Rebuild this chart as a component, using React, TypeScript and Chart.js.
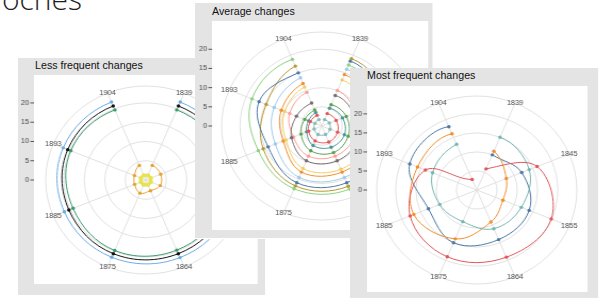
import React, { useEffect, useRef } from "react";
import { Chart, RadarController, RadialLinearScale, PointElement, LineElement } from "chart.js";

// Radar controller whose line is left open (a spiral path), as ggplot's coord_polar draws it.
// Curvature is computed as for a closed loop, but the closing segment is not drawn.
class SpiralController extends RadarController {
  static id = "spiral";
  static defaults = {
    datasetElementType: "line",
    dataElementType: "point",
    indexAxis: "r",
    showLine: true,
    elements: { line: { fill: false } },
  };
  update(mode: any) {
    super.update(mode);
    const line: any = (this as any)._cachedMeta.dataset;
    if (line) {
      line._loop = false;
      line._fullLoop = false;
      line._path = undefined;
      line._segments = undefined;
      line._pointsUpdated = false;
    }
  }
  draw() {
    const meta: any = (this as any)._cachedMeta;
    const line = meta.dataset;
    if (line) {
      line._fullLoop = true;
      line._pointsUpdated = false;
      line.updateControlPoints(this.chart.chartArea, "r");
      line._fullLoop = false;
      line._loop = false;
      line._segments = undefined;
      line._path = undefined;
    }
    super.draw();
  }
}
Chart.register(SpiralController, RadialLinearScale, PointElement, LineElement);

// ---------- data ----------
const YEARS = ["1839", "1845", "1855", "1864", "1875", "1885", "1893", "1904"];
const R_TICKS = [0, 5, 10, 15, 20];

// Less frequent changes
const LESS_BLUE = [21.9, 21.8, 21.8, 21.8, 21.7, 21.5, 21.8, 21.9];
const LESS_BLACK = [20.8, 20.7, 20.7, 20.7, 20.7, 20.3, 20.6, 20.8];
const LESS_GREEN = [19.7, 19.7, 19.7, 19.7, 19.8, 19.2, 19.8, 19.7];
const LESS_ORANGE = [4.1, 3.9, 3.8, 3.0, 3.7, 2.95, 3.0, 4.1];
const LESS_YELLOW = [1.3, 1.3, 1.3, 1.3, 1.3, 1.3, 1.3, 1.3];

// Average changes
const AVG_LIGHTGREEN = [17.2, 17.5, 17.6, 17.8, 17.7, 16.8, 18.5, 18.8];
const AVG_GOLD = [19.0, 17.5, 17.0, 17.0, 16.9, 15.5, 14.7, 16.9];
const AVG_BLUE = [18.3, 16.5, 16.0, 16.0, 16.0, 14.2, 16.6, 15.0];
const AVG_LIGHTBLUE = [16.0, 14.8, 14.5, 14.5, 14.5, 12.3, 12.6, 13.6];
const AVG_ORANGE = [14.5, 13.2, 13.0, 13.0, 13.0, 10.2, 10.7, 12.0];
const AVG_YELLOW = [13.0, 12.0, 12.0, 12.2, 12.0, 9.5, 9.8, 11.0];
const AVG_PINK = [10.0, 9.0, 8.5, 8.5, 8.5, 7.5, 8.5, 9.5];
const AVG_GRAY = [8.6, 8.5, 9.5, 9.8, 9.8, 8.0, 6.7, 6.5];
const AVG_GREEN = [6.0, 6.5, 7.0, 7.5, 7.0, 5.5, 4.5, 4.5];
const AVG_TEAL = [5.0, 5.5, 6.0, 6.0, 5.5, 4.0, 3.5, 3.8];
const AVG_RED = [3.5, 3.8, 4.2, 4.5, 4.2, 3.5, 3.0, 3.0];
const AVG_LIGHTTEAL = [1.8, 2.0, 2.2, 2.4, 2.4, 2.0, 1.8, 1.8];

// Most frequent changes
const MOST_BLUE = [10.0, 12.0, 14.0, 14.1, 15.0, 12.9, 17.9, 18.0];
const MOST_ORANGE = [11.0, 7.9, 7.0, 9.1, 13.9, 16.8, 15.8, 16.0];
const MOST_TEAL = [15.0, 14.0, 11.9, 11.0, 9.0, 9.9, 11.8, 13.0];
const MOST_RED = [6.0, 16.1, 19.9, 19.1, 19.0, 17.8, 13.7, 3.0];

// ---------- styling ----------
const FONT = '"Liberation Sans", Arial, Helvetica, sans-serif';
const STRETCH = 1.065;
const GRAY = "#e4e4e4";
const GRID = "#dedede";

type S = { data: number[]; color: string; width?: number; radius?: number };
type Cfg = {
  title: string;
  left: number; top: number; w: number; h: number;
  white: [number, number, number, number];
  titleX: number; titleY: number;
  cx: number; cy: number; R: number; max: number;
  series: S[];
};

const PANELS: Cfg[] = [
  {
    title: "Less frequent changes",
    left: 18, top: 58, w: 232, h: 237,
    white: [15, 17, 210, 209],
    titleX: 16, titleY: 2.5,
    cx: 120, cy: 122, R: 94, max: 24.4,
    series: [
      { data: LESS_YELLOW, color: "#e6e34e", width: 2.5, radius: 2.2 },
      { data: LESS_ORANGE, color: "#e7a332" },
      { data: LESS_GREEN, color: "#3a9a6e" },
      { data: LESS_BLACK, color: "#111111" },
      { data: LESS_BLUE, color: "#6cace4" },
    ],
  },
  {
    title: "Average changes",
    left: 195, top: 3, w: 223, h: 235,
    white: [16, 18, 203, 209],
    titleX: 16, titleY: 4,
    cx: 119, cy: 123.5, R: 94, max: 24.5,
    series: [
      { data: AVG_LIGHTTEAL, color: "#86bcb6" },
      { data: AVG_RED, color: "#e15759" },
      { data: AVG_TEAL, color: "#499894" },
      { data: AVG_GREEN, color: "#59a14f" },
      { data: AVG_GRAY, color: "#79706e" },
      { data: AVG_PINK, color: "#ff9d9a" },
      { data: AVG_YELLOW, color: "#f1ce63" },
      { data: AVG_ORANGE, color: "#f28e2b" },
      { data: AVG_LIGHTBLUE, color: "#a0cbe8" },
      { data: AVG_BLUE, color: "#4e79a7" },
      { data: AVG_GOLD, color: "#b6992d" },
      { data: AVG_LIGHTGREEN, color: "#8cd17d" },
    ],
  },
  {
    title: "Most frequent changes",
    left: 350, top: 68, w: 233, h: 240,
    white: [16, 18, 207, 206],
    titleX: 16, titleY: 2.5,
    cx: 119.7, cy: 122, R: 94, max: 24.7,
    series: [
      { data: MOST_RED, color: "#e15759" },
      { data: MOST_TEAL, color: "#76b7b2" },
      { data: MOST_ORANGE, color: "#f28e2b" },
      { data: MOST_BLUE, color: "#4e79a7" },
    ],
  },
];

const polarDecor = {
  id: "polarDecor",
  afterDraw(chart: any, _args: any, opts: any) {
    const s = chart.scales.r;
    const ctx = chart.ctx;
    ctx.save();
    ctx.font = `7px ${FONT}`;
    ctx.fillStyle = "#4d4d4d";
    ctx.textBaseline = "middle";
    ctx.textAlign = "right";
    for (const v of R_TICKS) {
      const y = s.yCenter - s.getDistanceFromCenterForValue(v);
      ctx.fillText(String(v), opts.axisX - 4.5, y);
      ctx.strokeStyle = "#333333";
      ctx.lineWidth = 0.8;
      ctx.beginPath();
      ctx.moveTo(opts.axisX - 3.5, y);
      ctx.lineTo(opts.axisX, y);
      ctx.stroke();
    }
    ctx.textAlign = "center";
    (chart.data.labels as string[]).forEach((lab, i) => {
      const p = s.getPointPosition(i, s.drawingArea);
      ctx.fillText(lab, p.x, p.y);
    });
    ctx.restore();
  },
};

function PolarPanel({ cfg }: { cfg: Cfg }) {
  const ref = useRef<HTMLCanvasElement>(null);
  useEffect(() => {
    const chart = new Chart(ref.current as HTMLCanvasElement, {
      type: "spiral" as any,
      data: {
        labels: YEARS,
        datasets: cfg.series.map((s) => ({
          data: s.data,
          showLine: true,
          borderColor: s.color,
          backgroundColor: s.color,
          pointBackgroundColor: s.color,
          borderWidth: s.width ?? 1,
          pointRadius: s.radius ?? 1.7,
          pointBorderWidth: 0,
          fill: false,
          tension: 0.38,
          capBezierPoints: false,
        })),
      } as any,
      options: {
        responsive: false,
        animation: false,
        devicePixelRatio: 1,
        layout: {
          padding: {
            left: cfg.cx - cfg.R,
            top: cfg.cy - cfg.R,
            right: cfg.w - (cfg.cx + cfg.R),
            bottom: cfg.h - (cfg.cy + cfg.R),
          },
        },
        plugins: { polarDecor: { axisX: cfg.white[0] } } as any,
        scales: {
          r: {
            min: 0,
            max: cfg.max,
            startAngle: 22.5,
            ticks: { display: false, stepSize: 5 },
            grid: { color: GRID, lineWidth: 0.9, circular: true },
            angleLines: { color: GRID, lineWidth: 0.9 },
            pointLabels: { display: false },
          },
        } as any,
      },
      plugins: [polarDecor],
    });
    return () => chart.destroy();
  }, []);
  return (
    <div
      style={{
        position: "absolute",
        left: cfg.left,
        top: cfg.top,
        width: cfg.w,
        height: cfg.h,
        background: GRAY,
        transform: `scaleX(${STRETCH})`,
        transformOrigin: "0 0",
        overflow: "hidden",
      }}
    >
      <div
        style={{
          position: "absolute",
          left: cfg.white[0],
          top: cfg.white[1],
          width: cfg.white[2],
          height: cfg.white[3],
          background: "#ffffff",
        }}
      />
      <div
        style={{
          position: "absolute",
          left: cfg.titleX,
          top: cfg.titleY,
          font: `10px ${FONT}`,
          lineHeight: "10px",
          whiteSpace: "nowrap",
          color: "#111111",
        }}
      >
        {cfg.title}
      </div>
      <canvas ref={ref} width={cfg.w} height={cfg.h} style={{ position: "absolute", left: 0, top: 0 }} />
    </div>
  );
}

export default function App() {
  return (
    <div
      style={{
        position: "fixed",
        left: 0,
        top: 0,
        width: 602,
        height: 298,
        overflow: "hidden",
        background: "#ffffff",
      }}
    >
      <div
        style={{
          position: "absolute",
          right: 520,
          top: -15.6,
          font: `300 30px "Open Sans", "Noto Sans", sans-serif`,
          lineHeight: "30px",
          whiteSpace: "nowrap",
          color: "#1e1e1e",
        }}
      >
        Approches
      </div>
      {PANELS.map((p) => (
        <PolarPanel key={p.title} cfg={p} />
      ))}
    </div>
  );
}
